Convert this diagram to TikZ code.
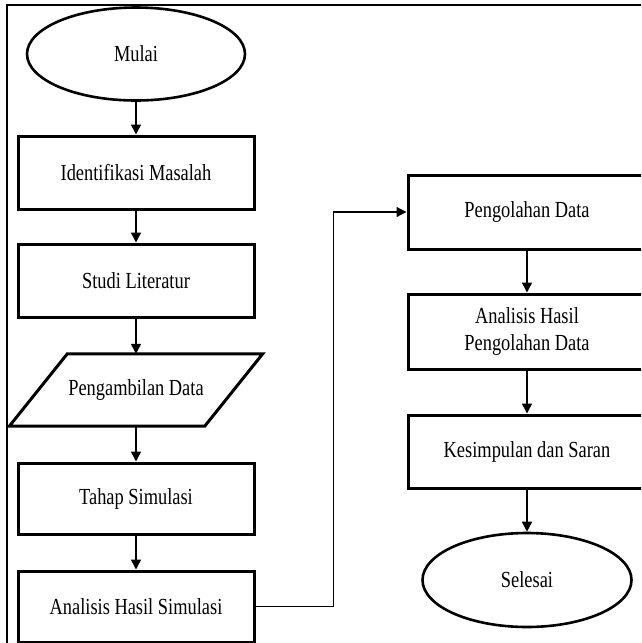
\documentclass[tikz,border=0pt]{standalone}
\usepackage{fontspec}
\setmainfont[FakeStretch=0.8]{Liberation Serif}
\usetikzlibrary{shapes.geometric,arrows.meta}
\tikzset{
  boxnode/.style={draw,line width=3pt,rectangle,inner sep=0pt,minimum width=236pt,font=\fontsize{23}{27}\selectfont,align=center},
  termnode/.style={draw,line width=2.6pt,ellipse,inner sep=0pt,font=\fontsize{23}{27}\selectfont},
  datanode/.style={rectangle,inner sep=0pt,minimum width=195pt,minimum height=72pt,font=\fontsize{23}{27}\selectfont},
  arr/.style={line width=1.5pt,-{Triangle[length=10pt,width=10pt]}},
  thinarr/.style={line width=1.2pt,-{Triangle[length=10pt,width=10pt]}},
  framel/.style={line width=1.5pt}
}
\begin{document}
\begin{tikzpicture}[x=1pt,y=-1pt]
\useasboundingbox (0,0) rectangle (641,643);
\clip (0,0) rectangle (641,643);
\fill[white] (0,0) rectangle (641,643);
\draw[framel] (7,645) -- (7,5) -- (645,5);

\node[termnode,minimum width=218pt,minimum height=93pt] (mulai) at (136,54) {Mulai};
\node[boxnode,minimum height=73pt] (ident) at (136,172.5) {Identifikasi Masalah};
\node[boxnode,minimum height=73pt] (studi) at (136,280.5) {Studi Literatur};
\node[datanode] (data) at (136,390) {Pengambilan Data};
\draw[line width=3pt,line join=miter]
  ([xshift=29pt]data.north west) -- ([xshift=29pt]data.north east)
  -- ([xshift=-29pt]data.south east) -- ([xshift=-29pt]data.south west) -- cycle;
\node[boxnode,minimum height=71pt] (tahap) at (136,498.5) {Tahap Simulasi};
\node[boxnode,minimum height=71pt] (ahs) at (136,606.5) {Analisis Hasil Simulasi};

\node[boxnode,minimum width=238pt,minimum height=74pt] (olah) at (527,212) {Pengolahan Data};
\node[boxnode,minimum width=238pt,minimum height=75pt] (ahpd) at (527,331.5) {Analisis Hasil\\Pengolahan Data};
\node[boxnode,minimum width=238pt,minimum height=73pt] (kes) at (527,451.5) {Kesimpulan dan Saran};
\node[termnode,minimum width=209pt,minimum height=94pt] (selesai) at (527,580) {Selesai};

\draw[arr] (mulai) -- (ident);
\draw[arr] (ident) -- (studi);
\draw[arr] (studi) -- (data.north);
\draw[arr] (data.south) -- (tahap);
\draw[arr] (tahap) -- (ahs);
\draw[thinarr] (ahs.east) -- ++(78,0) |- (olah.west);
\draw[arr] (olah) -- (ahpd);
\draw[arr] (ahpd) -- (kes);
\draw[arr] (kes) -- (selesai);
\end{tikzpicture}
\end{document}
